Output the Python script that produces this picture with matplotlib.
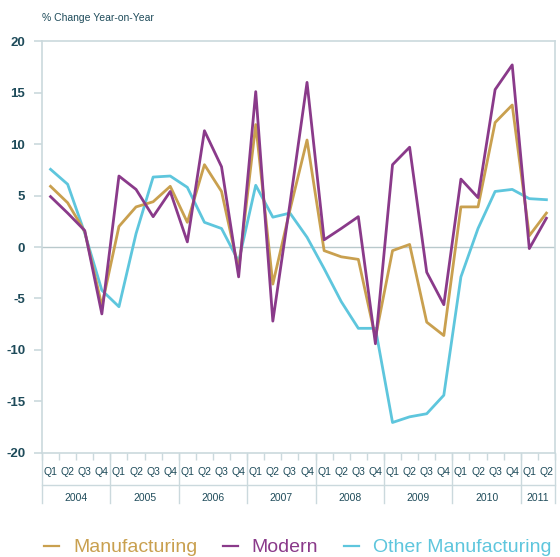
import matplotlib
matplotlib.use("Agg")
import matplotlib.pyplot as plt
import matplotlib.transforms as mtrans
import numpy as np

# quarterly data, 2004 Q1 .. 2011 Q2
years = ["2004", "2005", "2006", "2007", "2008", "2009", "2010", "2011"]
quarters = ["Q1", "Q2", "Q3", "Q4"]
n_quarters = [4, 4, 4, 4, 4, 4, 4, 2]

manufacturing = [5.9, 4.3, 1.5, -5.7, 2.0, 3.9, 4.4, 5.9, 2.4, 8.0, 5.4, -2.2,
                 11.9, -3.6, 3.6, 10.4, -0.35, -0.95, -1.2, -8.8, -0.35, 0.25, -7.3, -8.6,
                 3.9, 3.9, 12.1, 13.8, 1.1, 3.3]
modern = [4.9, 3.3, 1.6, -6.5, 6.9, 5.6, 2.95, 5.4, 0.5, 11.3, 7.8, -2.9,
          15.1, -7.2, 4.2, 16.0, 0.7, 1.8, 2.95, -9.4, 8.0, 9.7, -2.45, -5.6,
          6.6, 4.8, 15.3, 17.7, -0.15, 2.8]
other_manufacturing = [7.55, 6.1, 1.35, -4.2, -5.8, 1.3, 6.8, 6.9, 5.8, 2.4, 1.8, -1.4,
                       6.0, 2.9, 3.3, 0.95, -2.1, -5.3, -7.9, -7.9, -17.05, -16.5, -16.2, -14.4,
                       -2.9, 1.8, 5.4, 5.6, 4.7, 4.6]

c_man = "#C9A04F"
c_mod = "#8A3A8A"
c_oth = "#5EC6DD"
c_txt = "#1E4B5A"
c_ax = "#CBD9DD"

narrow = ["Liberation Sans Narrow", "Liberation Sans", "DejaVu Sans"]
plt.rcParams["font.family"] = ["Liberation Sans", "DejaVu Sans"]
plt.rcParams["axes.unicode_minus"] = False

fig = plt.figure(figsize=(5.6, 5.57), dpi=100)
ax = fig.add_axes([0.075, 0.187, 0.916, 0.739])

x = np.arange(len(manufacturing))
ax.plot(x, manufacturing, color=c_man, lw=2.0, label="Manufacturing", zorder=3)
ax.plot(x, modern, color=c_mod, lw=2.0, label="Modern", zorder=4)
ax.plot(x, other_manufacturing, color=c_oth, lw=2.0, label="Other Manufacturing", zorder=2)

ax.axhline(0, color="#B9C9CC", lw=1.0, zorder=1)
ax.set_xlim(-0.5, len(x) - 0.5)
ax.set_ylim(-20, 20)
ax.set_yticks(range(-20, 21, 5))
ax.tick_params(axis="y", colors=c_ax, length=6, width=1.2, labelcolor=c_txt, labelsize=9.5, pad=6)
for lab in ax.get_yticklabels():
    lab.set_fontweight("bold")
for s in ax.spines.values():
    s.set_color(c_ax)
    s.set_linewidth(1.2)

# category axis: quarter boundaries, quarter labels, year row
ax.set_xticks(np.arange(len(x) + 1) - 0.5)
ax.set_xticklabels([])
ax.tick_params(axis="x", colors=c_ax, length=5, width=1.0)

tr = mtrans.blended_transform_factory(ax.transData, ax.transAxes)
qlabels = [q for n in n_quarters for q in quarters[:n]]
for i, q in enumerate(qlabels):
    ax.text(i, -0.047, q, transform=tr, ha="center", va="center",
            fontsize=7.5, color=c_txt, family=narrow)

ax.plot([-0.5, len(x) - 0.5], [-0.078, -0.078], transform=tr, color=c_ax,
        lw=1.0, clip_on=False)
start = 0
for yr, n in zip(years, n_quarters):
    ax.plot([start - 0.5, start - 0.5], [0, -0.122], transform=tr, color=c_ax,
            lw=1.0, clip_on=False)
    ax.text(start + n / 2 - 0.5, -0.11, yr, transform=tr, ha="center", va="center",
            fontsize=7.5, color=c_txt, family=narrow)
    start += n
ax.plot([start - 0.5, start - 0.5], [0, -0.122], transform=tr, color=c_ax,
        lw=1.0, clip_on=False)

fig.text(0.075, 0.968, "% Change Year-on-Year", fontsize=7.5, color=c_txt,
         ha="left", va="center", family=narrow)

leg = fig.legend(loc="center left", bbox_to_anchor=(0.061, 0.017), ncol=3, frameon=False,
                 fontsize=14.0, handlelength=0.8, handletextpad=0.7, columnspacing=1.3,
                 borderpad=0, labelcolor="linecolor")
for h in leg.get_lines():
    h.set_linewidth(1.6)

fig.savefig("out.png", dpi=100)
